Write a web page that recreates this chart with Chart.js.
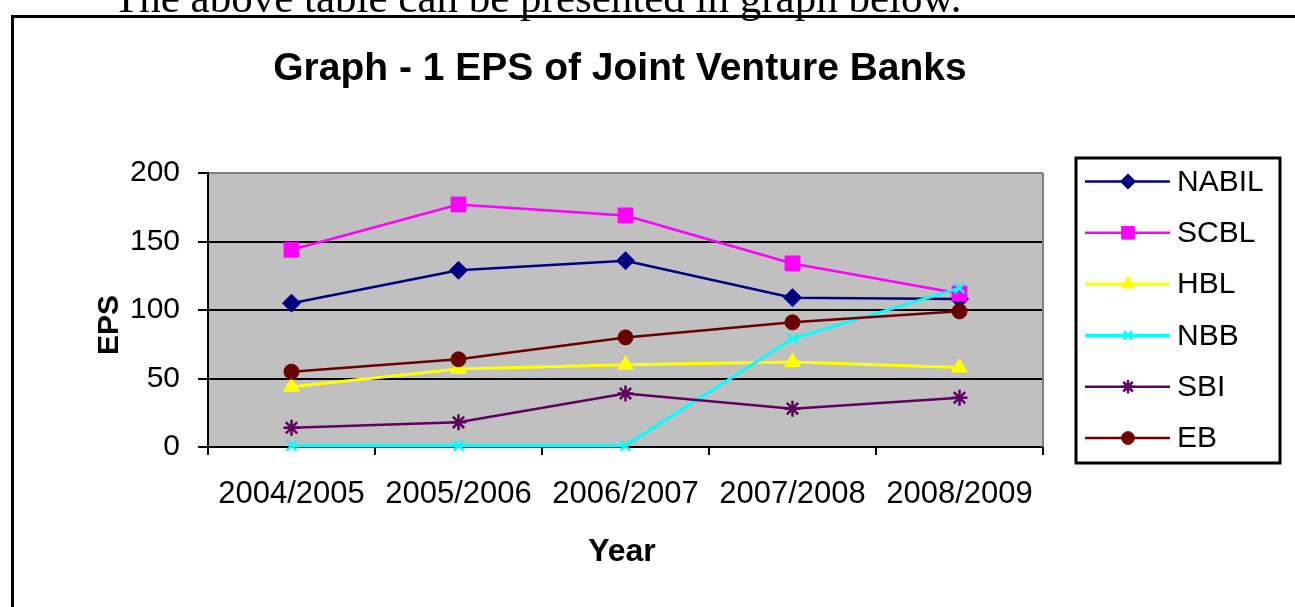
<!DOCTYPE html>
<html>
<head>
<meta charset="utf-8">
<script src="https://cdn.jsdelivr.net/npm/chart.js@4/dist/chart.umd.min.js"></script>
<style>
html,body{margin:0;padding:0;background:#fff;overflow:hidden}
#wrap{position:relative;width:1295px;height:607px}
canvas{display:block}
</style>
</head>
<body>
<div id="wrap"><canvas id="c" width="1295" height="607"></canvas></div>
<script>
// ---- data ----
const categories = ['2004/2005', '2005/2006', '2006/2007', '2007/2008', '2008/2009'];
const seriesNames = ['NABIL', 'SCBL', 'HBL', 'NBB', 'SBI', 'EB'];
const nabil = [105, 129, 136, 109, 108];
const scbl  = [144, 177, 169, 134, 112];
const hbl   = [44, 57, 60, 62, 58];
const nbb   = [1, 1, 1, 79, 116];
const sbi   = [14, 18, 39, 28, 36];
const eb    = [55, 64, 80, 91, 99];
const yTicks = [0, 50, 100, 150, 200];
const captionText = 'The above table can be presented in graph below.';
const titleText = 'Graph - 1 EPS of Joint Venture Banks';
const xTitle = 'Year';
const yTitle = 'EPS';

// ---- styles ----
const SANS = "'Liberation Sans', Arial, sans-serif";
const styles = [
  {color: '#000080', pointStyle: 'rectRot', radius: 9, width: 2.5},
  {color: '#ff00ff', pointStyle: 'rect', radius: 10.5, width: 2.5},
  {color: '#ffff00', pointStyle: 'triangle', radius: 9, width: 3},
  {color: '#00ffff', pointStyle: 'crossRot', radius: 7, width: 3},
  {color: '#600060', pointStyle: 'star', radius: 8, width: 2.5},
  {color: '#6a0000', pointStyle: 'circle', radius: 7.5, width: 2.5}
];
const seriesValues = [nabil, scbl, hbl, nbb, sbi, eb];

function markerBorder(st) {
  return (st.pointStyle === 'crossRot' || st.pointStyle === 'star') ? 2.5 : 1;
}

const datasets = seriesNames.map((name, i) => ({
  label: name,
  data: seriesValues[i],
  borderColor: styles[i].color,
  backgroundColor: styles[i].color,
  pointBackgroundColor: styles[i].color,
  pointBorderColor: styles[i].color,
  pointStyle: styles[i].pointStyle,
  pointRadius: styles[i].radius,
  pointBorderWidth: markerBorder(styles[i]),
  borderWidth: styles[i].width,
  tension: 0,
  clip: false,
  order: -i
}));

function drawMarker(ctx, st, x, y) {
  ctx.save();
  ctx.fillStyle = st.color;
  ctx.strokeStyle = st.color;
  const bw = markerBorder(st);
  ctx.lineWidth = bw;
  if (Chart.helpers && Chart.helpers.drawPoint) {
    Chart.helpers.drawPoint(ctx, {pointStyle: st.pointStyle, rotation: 0, radius: st.radius * 0.85, borderWidth: bw}, x, y);
  } else {
    ctx.beginPath(); ctx.arc(x, y, st.radius, 0, Math.PI * 2); ctx.fill();
  }
  ctx.restore();
}

const decor = {
  id: 'decor',
  beforeDraw(chart) {
    const ctx = chart.ctx, a = chart.chartArea;
    ctx.save();
    ctx.fillStyle = '#ffffff';
    ctx.fillRect(0, 0, chart.width, chart.height);
    ctx.fillStyle = '#c0c0c0';
    ctx.fillRect(a.left, a.top, a.right - a.left, a.bottom - a.top);
    ctx.restore();
  },
  beforeDatasetsDraw(chart) {
    const ctx = chart.ctx, a = chart.chartArea;
    ctx.save();
    ctx.strokeStyle = '#808080';
    ctx.lineWidth = 2;
    ctx.beginPath();
    ctx.moveTo(a.right, a.top);
    ctx.lineTo(a.right, a.bottom);
    ctx.stroke();
    ctx.restore();
  },
  afterDraw(chart) {
    const ctx = chart.ctx;
    ctx.save();
    // caption above the frame
    ctx.fillStyle = '#000';
    ctx.font = "43px 'Liberation Serif', 'Times New Roman', serif";
    ctx.textAlign = 'left';
    ctx.textBaseline = 'alphabetic';
    ctx.fillText(captionText, 113, 12);
    // frame
    ctx.fillRect(11, 15, 3, chart.height - 15);
    ctx.fillRect(11, 15, chart.width - 11, 3);
    // title
    ctx.font = 'bold 39px ' + SANS;
    ctx.textAlign = 'center';
    ctx.fillText(titleText, 620, 80);
    // axis titles
    ctx.font = 'bold 32px ' + SANS;
    ctx.fillText(xTitle, 622, 561);
    ctx.save();
    ctx.translate(118, 325);
    ctx.rotate(-Math.PI / 2);
    ctx.font = 'bold 30px ' + SANS;
    ctx.textAlign = 'center';
    ctx.textBaseline = 'alphabetic';
    ctx.fillText(yTitle, 0, 0);
    ctx.restore();
    // legend
    const lx = 1076, ly = 158, lw = 204, lh = 305;
    ctx.fillStyle = '#ffffff';
    ctx.fillRect(lx, ly, lw, lh);
    ctx.strokeStyle = '#000';
    ctx.lineWidth = 3;
    ctx.strokeRect(lx, ly, lw, lh);
    ctx.font = '30px ' + SANS;
    ctx.textAlign = 'left';
    ctx.textBaseline = 'middle';
    seriesNames.forEach((name, i) => {
      const y = 181.5 + i * 51.3;
      const st = styles[i];
      ctx.strokeStyle = st.color;
      ctx.lineWidth = st.width;
      ctx.beginPath();
      ctx.moveTo(1085, y);
      ctx.lineTo(1170, y);
      ctx.stroke();
      drawMarker(ctx, st, 1128, y);
      ctx.fillStyle = '#000';
      ctx.fillText(name, 1177, y + 1);
    });
    ctx.restore();
  }
};

new Chart(document.getElementById('c'), {
  type: 'line',
  data: {labels: categories, datasets: datasets},
  options: {
    responsive: false,
    animation: false,
    devicePixelRatio: 1,
    layout: {padding: {left: 0, top: 173, right: 252, bottom: 0}},
    plugins: {legend: {display: false}, title: {display: false}, tooltip: {enabled: false}},
    scales: {
      x: {
        type: 'category',
        offset: true,
        afterFit(s) { s.height = 160; },
        grid: {display: true, drawOnChartArea: false, drawTicks: true, tickLength: 8, color: '#000', lineWidth: 2, offset: true},
        border: {display: true, color: '#000', width: 2},
        ticks: {color: '#000', font: {family: SANS, size: 31}, padding: 21, maxRotation: 0, autoSkip: false}
      },
      y: {
        min: 0, max: 200,
        afterFit(s) { s.width = 208; },
        afterBuildTicks(s) { s.ticks = yTicks.map(v => ({value: v})); },
        grid: {
          drawOnChartArea: true, drawTicks: true, tickLength: 10, lineWidth: 2, tickColor: '#000', tickWidth: 2,
          color: (c) => c.tick && c.tick.value === 200 ? '#808080' : (c.tick && c.tick.value === 0 ? 'rgba(0,0,0,0)' : '#000')
        },
        border: {display: true, color: '#000', width: 2},
        ticks: {color: '#000', font: {family: SANS, size: 30}, padding: 18}
      }
    }
  },
  plugins: [decor]
});
</script>
</body>
</html>
